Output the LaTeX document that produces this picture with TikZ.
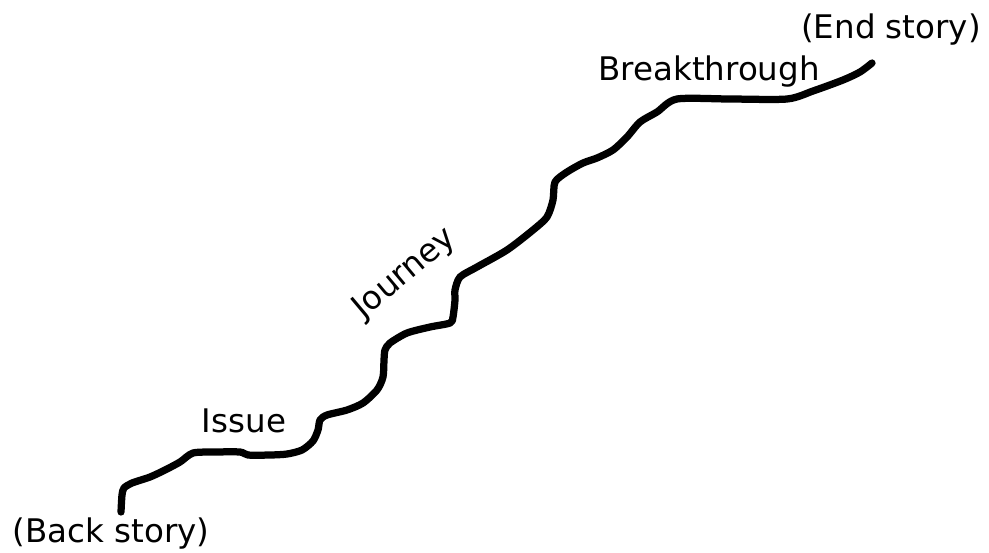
\documentclass[tikz,border=0pt]{standalone}
\usepackage{fontspec}
\setmainfont{DejaVu Sans}
\usepackage{tikz}
\usetikzlibrary{positioning,calc}
\tikzset{
  lbl/.style={inner sep=0pt, font=\fontsize{18.5}{22}\selectfont, text=black},
  storyline/.style={line width=0.145cm, line cap=round, line join=round, black},
}

\begin{document}
\begin{tikzpicture}[x=0.02cm, y=-0.02cm]
  \useasboundingbox (0,0) rectangle (989,552);
  % the path of the story, back to end
  \coordinate (back) at (121,512);
  \coordinate (done) at (872,63);
  \draw[storyline] plot[smooth, tension=0.45] coordinates {
    (back) (122,495) (124,488) (132,483) (150,477) (165,470) (180,462)
    (193,453) (215,452) (240,452) (248,455) (270,455) (287,454) (302,450)
    (313,441) (318,430) (320,420) (327,415) (347,410) (363,403) (377,390)
    (383,377) (384,360) (385,350) (390,343) (407,333) (430,327) (450,323)
    (453,317) (455,300) (455,290) (460,277) (477,267) (507,250) (533,230)
    (547,217) (553,200) (555,182) (567,172) (583,163) (597,158) (613,150)
    (627,137) (640,122) (657,112) (677,99) (730,99) (787,99) (813,91)
    (843,80) (860,72) (done)};
  % labels
  \node[lbl] (backstory) at (111,534) {(Back story)};
  \node[lbl] (issue) at (244,421) {Issue};
  \node[lbl, rotate=40] (journey) at (405,274) {Journey};
  \node[lbl] (breakthrough) at (709,72) {Breakthrough};
  \node[lbl] (endstory) at (891,30) {(End story)};
\end{tikzpicture}
\end{document}
